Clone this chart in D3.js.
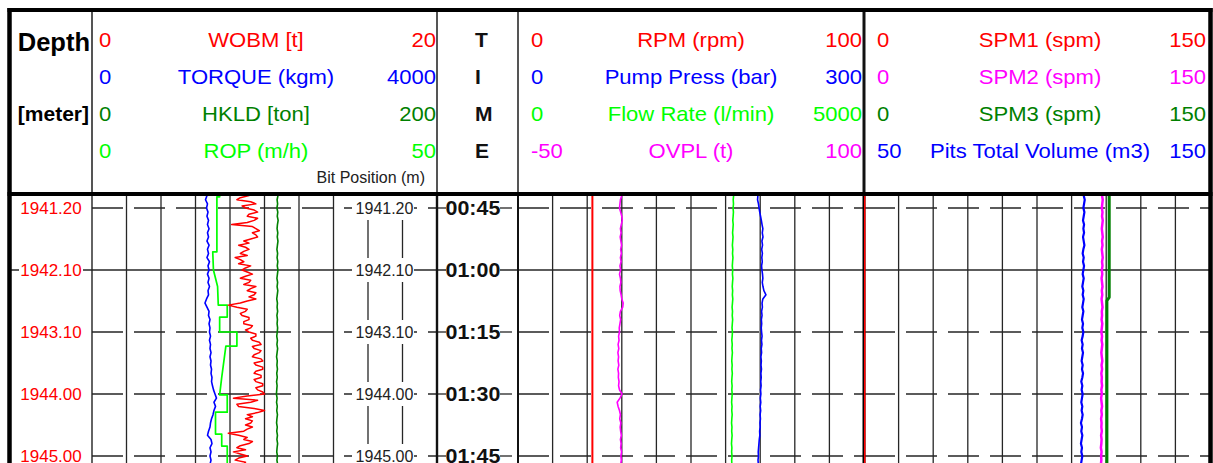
<!DOCTYPE html>
<html>
<head>
<meta charset="utf-8">
<script src="https://cdn.jsdelivr.net/npm/d3@7"></script>
<style>
  html, body { margin: 0; padding: 0; background: #fff; }
  svg { display: block; font-family: "Liberation Sans", Arial, Helvetica, sans-serif; }
</style>
</head>
<body>
<svg id="chart" width="1213" height="463"></svg>
<script>
// ---------------- time / depth axis ----------------
const tickMinutes = [45, 60, 75, 90, 105];              // minutes after midnight
const timeLabels = ["00:45", "01:00", "01:15", "01:30", "01:45"];
const depthLabels = ["1941.20", "1942.10", "1943.10", "1944.00", "1945.00"];
const bitPositionLabels = ["1941.20", "1942.10", "1943.10", "1944.00", "1945.00"];

// one reading per minute (00:41 .. 01:48), WOBM every half minute
const minuteSamples = d3.range(41, 109);
const halfMinuteSamples = d3.range(41, 108.01, 0.5);

// ---------------- track 1 : drilling mechanics ----------------
const track1Names = ["WOBM [t]", "TORQUE (kgm)", "HKLD [ton]", "ROP (m/h)"];
const track1Lo = [0, 0, 0, 0];
const track1Hi = [20, 4000, 200, 50];

const wobm = [
  8.3, 8.9, 9.1, 8.6, 8.4, 9.2, 9.5, 8.7, 8.9, 9.4,
  9.6, 9.1, 9.0, 9.6, 9.4, 9.0, 8.1, 9.3, 9.5, 9.7,
  9.3, 9.5, 9.6, 9.2, 8.8, 9.1, 8.5, 8.9, 9.1, 8.8,
  8.6, 9.0, 8.3, 8.6, 8.8, 8.5, 9.2, 8.9, 8.7, 9.0,
  9.3, 8.9, 8.6, 9.2, 9.1, 8.8, 9.5, 9.2, 9.0, 9.5,
  9.4, 9.1, 9.5, 9.0, 8.6, 7.9, 8.4, 9.0, 8.9, 8.6,
  8.7, 9.1, 9.1, 8.8, 8.8, 9.3, 9.2, 8.9, 9.1, 9.5,
  9.5, 9.2, 9.3, 9.7, 9.8, 9.3, 9.4, 9.8, 9.7, 9.4,
  9.3, 9.8, 9.9, 9.4, 9.5, 9.9, 9.9, 9.5, 9.4, 9.8,
  9.8, 9.4, 9.5, 9.9, 9.9, 9.5, 9.6, 9.9, 10.0, 9.0,
  8.2, 9.6, 9.2, 8.4, 8.5, 9.4, 10.0, 9.6, 9.0, 9.3,
  8.9, 9.3, 9.2, 8.9, 9.3, 9.0, 8.8, 7.9, 8.5, 9.0,
  8.8, 9.3, 9.1, 8.6, 8.4, 8.9, 8.2, 8.6, 9.0, 8.5,
  8.3, 8.9, 8.8, 8.4, 8.5
];

const torque = [
  1322, 1333, 1316, 1339, 1328, 1345, 1333, 1351, 1339, 1357,
  1339, 1351, 1333, 1357, 1339, 1351, 1333, 1362, 1345, 1357,
  1339, 1357, 1345, 1362, 1345, 1351, 1328, 1310, 1333, 1357,
  1351, 1368, 1357, 1368, 1362, 1374, 1362, 1374, 1368, 1380,
  1368, 1380, 1374, 1386, 1380, 1391, 1386, 1397, 1409, 1426,
  1443, 1414, 1432, 1414, 1403, 1386, 1374, 1368, 1351, 1339,
  1380, 1391, 1368, 1380, 1368, 1380, 1368, 1380
];

const hookload = [
  107.4, 107.8, 107.3, 107.6, 107.2, 107.7, 107.4, 107.9, 107.5, 107.3,
  107.7, 107.4, 107.8, 107.5, 107.2, 107.6, 107.3, 107.7, 107.4, 107.8,
  107.5, 107.2, 107.6, 107.3, 107.7, 107.4, 107.1, 107.5, 107.3, 107.6,
  107.2, 107.5, 107.3, 107.6, 107.4, 107.1, 107.5, 107.2, 107.6, 107.3,
  107.0, 107.4, 107.2, 107.5, 107.1, 107.4, 107.0, 107.3, 107.1, 106.9,
  107.3, 107.0, 107.4, 107.1, 107.5, 107.2, 107.0, 107.4, 107.1, 107.5,
  107.2, 107.6, 107.3, 107.1, 107.5, 107.2, 107.6, 107.3
];

// rate of penetration is logged as held values, so corners are listed twice
const ropMinutes = [41, 42.3, 42.3, 55.6, 55.6, 60, 64, 68.5, 68.5, 71.4, 71.4, 75, 75,
                    78.4, 78.4, 86, 90.2, 90.2, 94.4, 94.4, 99.7, 99.7, 102.6, 102.6, 108];
const rop = [18.5, 18.5, 18.1, 18.1, 17.5, 17.6, 18.2, 18.3, 19.6, 19.6, 18.5, 18.5, 21.0,
             21.0, 19.4, 18.8, 18.5, 19.6, 19.6, 17.9, 17.9, 18.8, 18.8, 19.6, 19.6];

// ---------------- track 2 : rotation / hydraulics ----------------
const track2Names = ["RPM (rpm)", "Pump Press (bar)", "Flow Rate (l/min)", "OVPL (t)"];
const track2Lo = [0, 0, 0, -50];
const track2Hi = [100, 300, 5000, 100];

const rpmMinutes = [41, 108];
const rpm = [21.5, 21.5];

const pumpPress = [
  207.6, 208.0, 207.7, 208.5, 209.0, 209.6, 210.3, 211.0, 211.6, 212.3,
  211.8, 212.4, 211.5, 212.0, 211.3, 211.9, 211.4, 211.8, 211.2, 211.5,
  212.0, 212.3, 211.8, 212.4, 213.2, 215.0, 212.3, 211.6, 211.9, 211.2,
  211.6, 211.0, 211.3, 210.9, 211.2, 211.6, 211.1, 211.5, 210.9, 211.2,
  210.6, 211.0, 210.7, 211.1, 210.6, 210.9, 210.5, 210.8, 210.3, 210.6,
  210.1, 210.5, 210.0, 210.4, 209.9, 210.2, 209.8, 210.0, 209.5, 209.7,
  209.2, 208.9, 208.6, 208.3, 208.5, 208.1, 208.4, 208.2
];

const flowRate = [
  3112, 3116, 3110, 3114, 3108, 3113, 3109, 3104, 3110, 3106,
  3101, 3107, 3103, 3098, 3104, 3100, 3106, 3101, 3097, 3103,
  3099, 3105, 3100, 3096, 3102, 3098, 3104, 3099, 3094, 3100,
  3096, 3102, 3097, 3093, 3099, 3095, 3090, 3096, 3092, 3098,
  3093, 3089, 3095, 3091, 3097, 3092, 3088, 3094, 3090, 3096,
  3091, 3087, 3093, 3089, 3095, 3090, 3086, 3092, 3088, 3094,
  3089, 3085, 3091, 3087, 3093, 3088, 3090, 3086
];

const overpull = [
  -5.4, -5.0, -5.6, -5.8, -6.0, -5.5, -5.0, -4.8, -5.2, -5.6,
  -5.3, -5.7, -5.4, -5.1, -5.5, -5.2, -5.6, -5.3, -5.8, -5.5,
  -6.0, -5.6, -5.4, -5.8, -5.7, -5.3, -5.0, -4.4, -4.6, -5.6,
  -5.9, -5.5, -5.8, -6.1, -6.0, -6.4, -6.2, -6.6, -6.3, -6.7,
  -6.4, -6.6, -6.3, -6.7, -6.4, -6.5, -6.2, -6.4, -6.0, -4.9,
  -5.8, -7.0, -6.6, -6.0, -5.6, -5.9, -5.4, -5.7, -5.5, -5.2,
  -5.6, -5.3, -5.5, -5.1, -5.4, -5.2, -5.5, -5.3
];

// ---------------- track 3 : pumps / pits ----------------
const track3Names = ["SPM1 (spm)", "SPM2 (spm)", "SPM3 (spm)", "Pits Total Volume (m3)"];
const track3Lo = [0, 0, 0, 50];
const track3Hi = [150, 150, 150, 150];

const spm1Minutes = [41, 108];
const spm1 = [0, 0];

const spm2 = [
  103.4, 103.2, 103.5, 103.3, 103.1, 103.4, 103.2, 103.5, 103.3, 103.1,
  103.3, 103.5, 103.2, 103.4, 103.1, 103.3, 103.5, 103.2, 103.4, 103.1,
  103.3, 103.0, 103.2, 103.4, 103.1, 103.3, 103.0, 103.2, 103.4, 103.1,
  103.2, 103.0, 103.3, 103.1, 102.9, 103.2, 103.0, 103.3, 103.1, 102.9,
  103.1, 103.3, 103.0, 103.2, 102.9, 103.1, 103.0, 103.2, 102.9, 103.1,
  102.8, 103.0, 103.2, 102.9, 103.1, 102.8, 103.0, 102.9, 103.1, 102.8,
  103.0, 102.9, 102.7, 103.0, 102.8, 102.9, 102.7, 102.9
];

const spm3Minutes = [41, 66.6, 67.4, 108];
const spm3 = [106.3, 106.3, 105.3, 105.3];

const pitVolume = [
  113.7, 113.5, 113.8, 113.6, 113.4, 113.7, 113.5, 113.3, 113.6, 113.4,
  113.6, 113.3, 113.5, 113.7, 113.4, 113.2, 113.5, 113.3, 113.6, 113.4,
  113.2, 113.5, 113.3, 113.1, 113.4, 113.2, 113.5, 113.3, 113.1, 113.4,
  113.2, 113.0, 113.3, 113.1, 113.4, 113.2, 112.9, 113.2, 113.0, 113.3,
  113.1, 112.9, 113.2, 113.0, 113.3, 113.1, 112.8, 113.1, 112.9, 113.2,
  113.0, 112.8, 113.1, 112.9, 113.2, 113.0, 112.7, 113.0, 112.8, 113.1,
  112.9, 112.7, 113.0, 112.8, 113.1, 112.9, 112.7, 113.0
];

// ---------------- styling ----------------
const RED = "#ff0000", BLUE = "#0000ff", DKGREEN = "#008000", LTGREEN = "#00ff00", MAGENTA = "#ff00ff";
const GRID = "#262626";

const track1Colors = [RED, BLUE, DKGREEN, LTGREEN];
const track2Colors = [RED, BLUE, LTGREEN, MAGENTA];
const track3Colors = [RED, MAGENTA, DKGREEN, BLUE];

// ---------------- layout ----------------
const frame = { left: 9.5, right: 1210.5, top: 10, headerBottom: 194, bottom: 490 };
const plotTop = 196, plotBottom = 490;
const cols = {
  depth: [9.5, 92],
  track1: [92, 437],
  time: [437, 518],
  track2: [518, 864],
  track3: [864, 1210]
};
const rowBaselines = [47, 84, 121, 158];

const svg = d3.select("#chart");

// vertical axis: clock time, 15 minutes per major row
const y = d3.scaleLinear().domain([45, 105]).range([208, 456]);

function label(sel, x, yy, s, o = {}) {
  return sel.append("text")
    .attr("transform", `translate(${x},${yy}) scale(${o.sx || 1},1)`)
    .attr("text-anchor", o.anchor || "start")
    .attr("font-size", o.size || 20)
    .attr("font-weight", o.bold ? "bold" : null)
    .attr("fill", o.color || "#000")
    .text(s);
}

function hline(sel, x0, x1, yy, o = {}) {
  return sel.append("line")
    .attr("x1", x0).attr("x2", x1).attr("y1", yy).attr("y2", yy)
    .attr("stroke", o.color || GRID)
    .attr("stroke-width", o.width || 1.3)
    .attr("stroke-dasharray", o.dash || null);
}

function vline(sel, xx, y0, y1, o = {}) {
  return sel.append("line")
    .attr("x1", xx).attr("x2", xx).attr("y1", y0).attr("y2", y1)
    .attr("stroke", o.color || GRID)
    .attr("stroke-width", o.width || 1.3);
}

// ---------------- grid ----------------
const gridG = svg.append("g");

function trackGrid(range) {
  const gx = d3.scaleLinear().domain([0, 10]).range(range);
  d3.range(1, 10).forEach(k => vline(gridG, gx(k), plotTop, plotBottom));
  tickMinutes.forEach(m => {
    const hour = m % 60 === 0;
    hline(gridG, range[0], range[1], y(m), { dash: hour ? null : "31,11" });
  });
}
trackGrid(cols.track1);
trackGrid(cols.track2);
trackGrid(cols.track3);

// depth and time columns carry only the hour line plus label ticks
tickMinutes.forEach(m => {
  const yy = y(m);
  if (m % 60 === 0) {
    hline(gridG, cols.depth[0], cols.depth[1], yy);
    hline(gridG, cols.time[0], cols.time[1], yy);
  } else {
    hline(gridG, cols.time[0], 446, yy);
    hline(gridG, 500, 512, yy);
  }
});

// ---------------- curves ----------------
const defs = svg.append("defs");
function clipFor(id, range) {
  defs.append("clipPath").attr("id", id)
    .append("rect").attr("x", range[0]).attr("y", plotTop)
    .attr("width", range[1] - range[0]).attr("height", plotBottom - plotTop);
  return `url(#${id})`;
}

function drawCurve(g, range, lo, hi, times, values, color, width) {
  const x = d3.scaleLinear().domain([lo, hi]).range(range);
  const line = d3.line()
    .x(d => x(d[1]))
    .y(d => y(d[0]));
  g.append("path")
    .datum(d3.zip(times, values))
    .attr("d", line)
    .attr("fill", "none")
    .attr("stroke", color)
    .attr("stroke-width", width)
    .attr("stroke-linejoin", "round");
}

const t1 = svg.append("g").attr("clip-path", clipFor("clip-t1", cols.track1));
drawCurve(t1, cols.track1, track1Lo[2], track1Hi[2], minuteSamples, hookload, track1Colors[2], 1.6);
drawCurve(t1, cols.track1, track1Lo[1], track1Hi[1], minuteSamples, torque, track1Colors[1], 1.6);
drawCurve(t1, cols.track1, track1Lo[3], track1Hi[3], ropMinutes, rop, track1Colors[3], 1.7);
drawCurve(t1, cols.track1, track1Lo[0], track1Hi[0], halfMinuteSamples, wobm, track1Colors[0], 1.5);

const t2 = svg.append("g").attr("clip-path", clipFor("clip-t2", cols.track2));
drawCurve(t2, cols.track2, track2Lo[0], track2Hi[0], rpmMinutes, rpm, track2Colors[0], 2);
drawCurve(t2, cols.track2, track2Lo[3], track2Hi[3], minuteSamples, overpull, track2Colors[3], 1.6);
drawCurve(t2, cols.track2, track2Lo[2], track2Hi[2], minuteSamples, flowRate, track2Colors[2], 1.6);
drawCurve(t2, cols.track2, track2Lo[1], track2Hi[1], minuteSamples, pumpPress, track2Colors[1], 1.6);

// ---------------- depth / bit position / time labels ----------------
const labelG = svg.append("g");
tickMinutes.forEach((m, i) => {
  const yy = y(m);
  // depth (red, left column)
  labelG.append("rect").attr("x", 19).attr("y", yy - 11).attr("width", 64).attr("height", 22).attr("fill", "#fff");
  label(labelG, 51, yy + 6, depthLabels[i], { anchor: "middle", size: 17, color: RED });
  // bit position (inside track 1)
  labelG.append("rect").attr("x", 352).attr("y", yy - 12).attr("width", 62).attr("height", 24).attr("fill", "#fff");
  label(labelG, 384.5, yy + 6, bitPositionLabels[i], { anchor: "middle", size: 16, color: "#222" });
  // clock time
  labelG.append("rect").attr("x", 446).attr("y", yy - 12).attr("width", 54).attr("height", 24).attr("fill", "#fff");
  label(labelG, 445.5, yy + 7, timeLabels[i], { size: 19.5, bold: true, sx: 1.1, color: "#111" });
});

// ---------------- frame and column dividers ----------------
const frameG = svg.append("g");
// header dividers
vline(frameG, 92, frame.top, frame.headerBottom, { color: "#555", width: 2 });
vline(frameG, 437, frame.top, frame.headerBottom, { color: "#555", width: 2 });
vline(frameG, 518, frame.top, frame.headerBottom, { color: "#555", width: 2 });
vline(frameG, 864, frame.top, frame.headerBottom, { color: "#111", width: 3 });
// plot dividers
vline(frameG, 92, frame.headerBottom, plotBottom, { color: "#222", width: 1.4 });
vline(frameG, 437, frame.headerBottom, plotBottom, { color: "#111", width: 2.4 });
vline(frameG, 518, frame.headerBottom, plotBottom, { color: "#111", width: 2 });
vline(frameG, 864, frame.headerBottom, plotBottom, { color: "#000", width: 3 });
// outer frame
hline(frameG, frame.left - 2, frame.right + 2, frame.top, { color: "#000", width: 4 });
hline(frameG, frame.left - 2, frame.right + 2, frame.headerBottom, { color: "#000", width: 4 });
vline(frameG, frame.left, frame.top - 2, plotBottom, { color: "#000", width: 4.5 });
vline(frameG, frame.right, frame.top - 2, plotBottom, { color: "#000", width: 4.5 });

// track 3 curves sit over the divider so the zero-valued pump trace shows on its edge
const t3 = svg.append("g").attr("clip-path", clipFor("clip-t3", cols.track3));
drawCurve(t3, cols.track3, track3Lo[0], track3Hi[0], spm1Minutes, spm1, track3Colors[0], 3);
drawCurve(t3, cols.track3, track3Lo[3], track3Hi[3], minuteSamples, pitVolume, track3Colors[3], 2.2);
drawCurve(t3, cols.track3, track3Lo[1], track3Hi[1], minuteSamples, spm2, track3Colors[1], 2.5);
drawCurve(t3, cols.track3, track3Lo[2], track3Hi[2], spm3Minutes, spm3, track3Colors[2], 3);

// ---------------- header ----------------
const headG = svg.append("g");
label(headG, 90, 51, "Depth", { anchor: "end", size: 25.5, bold: true });
label(headG, 89, rowBaselines[2], "[meter]", { anchor: "end", size: 21, bold: true });

function trackHeader(names, lo, hi, colors, leftX, centerX, rightX) {
  names.forEach((n, i) => {
    const yy = rowBaselines[i];
    label(headG, leftX, yy, String(lo[i]), { size: 21, sx: 1.05, color: colors[i] });
    label(headG, centerX, yy, n, { anchor: "middle", size: 21, sx: 1.05, color: colors[i] });
    label(headG, rightX, yy, String(hi[i]), { anchor: "end", size: 21, sx: 1.05, color: colors[i] });
  });
}
trackHeader(track1Names, track1Lo, track1Hi, track1Colors, 99, 256, 436);
trackHeader(track2Names, track2Lo, track2Hi, track2Colors, 531, 691, 862);
trackHeader(track3Names, track3Lo, track3Hi, track3Colors, 877, 1040, 1206);

label(headG, 425, 183, "Bit Position (m)", { anchor: "end", size: 16, color: "#222" });

["T", "I", "M", "E"].forEach((c, i) => {
  label(headG, 475, rowBaselines[i], c, { size: 21, bold: true, color: "#111" });
});
</script>
</body>
</html>
